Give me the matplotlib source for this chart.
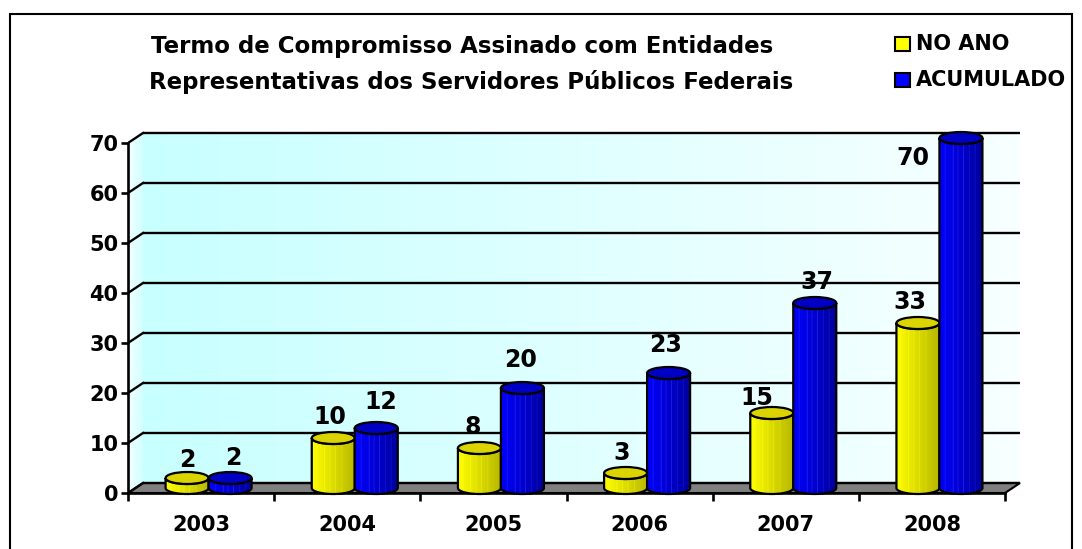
import numpy as np
import matplotlib.pyplot as plt
from matplotlib.patches import Polygon, Rectangle, Ellipse
from matplotlib.colors import to_rgb

plt.rcParams['font.family'] = ['DejaVu Sans']

years = ['2003', '2004', '2005', '2006', '2007', '2008']
no_ano = [2, 10, 8, 3, 15, 33]
acumulado = [2, 12, 20, 23, 37, 70]
yticks = [0, 10, 20, 30, 40, 50, 60, 70]

title1 = 'Termo de Compromisso Assinado com Entidades'
title2 = 'Representativas dos Servidores Públicos Federais'

# label nudges in pixels (dx, dy from top of cylinder)
off_ano = [(0, 18), (-3, 21), (-7, 21), (-4, 20), (-15, 15), (-8, 21)]
off_acu = [(3, 20), (4, 26), (-2, 28), (-3, 28), (2, 21), (-48, -20)]

W, H = 1082, 549
SX = 146.17          # pixels per category
SY = 5.0             # pixels per unit
DX = 15 / SX         # depth offset (x, category units)
DY = 10 / SY         # depth offset (y, value units)
BW = 43 / SX         # cylinder width
ER = 6 / SY          # ellipse half height
BASE = DY / 2

fig = plt.figure(figsize=(W / 100, H / 100), dpi=100)
x0, x1 = -0.5, 5.62
y0, y1 = -2.0, 73.5
left_px = 128
right_px = left_px + (x1 - x0) * SX
top_px = 493 - y1 * SY
bot_px = 493 - y0 * SY
ax = fig.add_axes([left_px / W, 1 - bot_px / H, (right_px - left_px) / W, (bot_px - top_px) / H])
ax.patch.set_alpha(0)


def hgrad(c0, c1, n=80, stripes=()):
    t = np.linspace(0, 1, n)
    a, b = np.array(to_rgb(c0)), np.array(to_rgb(c1))
    row = a[None, :] * (1 - t[:, None]) + b[None, :] * t[:, None]
    for s, amt in stripes:
        i = int(s * (n - 1))
        row[i] = np.clip(row[i] + amt, 0, 1)
    return row[None, :, :]


def grad_fill(patch, grad, extent, z):
    patch.set_facecolor('none')
    ax.add_patch(patch)
    im = ax.imshow(grad, extent=extent, aspect='auto', zorder=z, interpolation='bilinear')
    im.set_clip_path(patch)
    return im


# walls and floor
back = Polygon([(-0.5 + DX, DY), (5.5 + DX, DY), (5.5 + DX, 70 + DY), (-0.5 + DX, 70 + DY)],
               closed=True, lw=0, zorder=0.6)
grad_fill(back, hgrad('#C8FFFF', '#F8FFFF'), (-0.5 + DX, 5.5 + DX, DY, 70 + DY), 0.5)
side = Polygon([(-0.5, 0), (-0.5 + DX, DY), (-0.5 + DX, 70 + DY), (-0.5, 70)],
               closed=True, lw=0, zorder=0.6)
grad_fill(side, hgrad('#F2FFFF', '#D2FFFF'), (-0.5, -0.5 + DX, 0, 70 + DY), 0.5)
ax.add_patch(Polygon([(-0.5, 0), (5.5, 0), (5.5 + DX, DY), (-0.5 + DX, DY)], closed=True,
                     facecolor='#808080', edgecolor='black', lw=1.5, zorder=1))

for v in yticks:
    ax.plot([-0.5 + DX, 5.5 + DX], [v + DY, v + DY], color='black', lw=1.7, zorder=1.5,
            solid_capstyle='butt')
    ax.plot([-0.5, -0.5 + DX], [v, v + DY], color='black', lw=1.7, zorder=1.5)

yel_stripes = [(0.12, 0.08), (0.3, 0.1), (0.42, 0.08), (0.55, 0.1), (0.7, 0.08)]
blu_stripes = [(0.15, 0.15), (0.33, 0.2), (0.45, 0.15), (0.58, 0.2), (0.72, 0.12), (0.85, 0.1)]
series = [
    (no_ano, -BW / 2, ('#FFFF00', '#B8B800'), '#DCD400', yel_stripes, off_ano),
    (acumulado, BW / 2, ('#0000FF', '#00009E'), '#0000C4', blu_stripes, off_acu),
]

for i in range(len(years)):
    for k, (vals, shift, cols, topcol, stripes, offs) in enumerate(series):
        v = vals[i]
        xc = i + DX / 2 + shift
        xl, xr = xc - BW / 2, xc + BW / 2
        yt = BASE + v
        z = 3 + i * 0.1 + k * 0.05
        th = np.linspace(np.pi, 2 * np.pi, 40)
        bottom = [(xc + BW / 2 * np.cos(t), BASE + ER * np.sin(t)) for t in th]
        topfront = [(xc + BW / 2 * np.cos(t), yt + ER * np.sin(t)) for t in th[::-1]]
        verts = [(xl, yt)] + bottom + [(xr, yt)] + topfront
        body = Polygon(verts, closed=True, edgecolor='black', lw=1.6, zorder=z + 0.02)
        grad_fill(body, hgrad(cols[0], cols[1], stripes=stripes), (xl, xr, BASE - ER, yt), z)
        ax.add_patch(Ellipse((xc, yt), BW, 2 * ER, facecolor=topcol, edgecolor='black',
                             lw=1.6, zorder=z + 0.03))
        dxp, dyp = offs[i]
        ax.annotate(str(v), (xc, yt), xytext=(dxp, dyp), textcoords='offset pixels',
                    ha='center', va='center', fontsize=17, fontweight='bold', zorder=10)

ax.set_xlim(x0, x1)
ax.set_ylim(y0, y1)
for s in ['top', 'right']:
    ax.spines[s].set_visible(False)
ax.spines['left'].set_bounds(0, 70)
ax.spines['bottom'].set_position(('data', 0))
ax.spines['bottom'].set_bounds(-0.5, 5.5)
for s in ['left', 'bottom']:
    ax.spines[s].set_linewidth(1.9)
    ax.spines[s].set_zorder(2.5)

ax.set_yticks(yticks)
ax.set_yticklabels([str(t) for t in yticks], fontsize=15, fontweight='bold')
ax.tick_params(axis='y', length=5, width=1.9, pad=2)
ax.set_xticks(range(len(years)))
ax.set_xticklabels(years, fontsize=15, fontweight='bold')
ax.set_xticks(np.arange(-0.5, 6, 1), minor=True)
ax.tick_params(axis='x', which='major', length=0, pad=16)
ax.tick_params(axis='x', which='minor', length=6, width=1.9)

# title
fig.text(462 / W, 1 - 47 / H, title1, ha='center', va='center', fontsize=16.5, fontweight='bold')
fig.text(471 / W, 1 - 82 / H, title2, ha='center', va='center', fontsize=16.5, fontweight='bold')

# legend
for j, (lab, col) in enumerate([('NO ANO', '#FFFF00'), ('ACUMULADO', '#0000FF')]):
    yc = 44 + j * 36
    fig.add_artist(Rectangle((895 / W, 1 - (yc + 7) / H), 15 / W, 14 / H, transform=fig.transFigure,
                             facecolor=col, edgecolor='black', lw=1.5))
    fig.text(916 / W, 1 - yc / H, lab, ha='left', va='center', fontsize=15, fontweight='bold')

# chart border
fig.add_artist(Rectangle((10 / W, -0.01), (1072 - 10) / W, 1 - 14 / H + 0.01,
                         transform=fig.transFigure, fill=False, edgecolor='black', lw=1.5))

fig.savefig('out.png', dpi=100)
